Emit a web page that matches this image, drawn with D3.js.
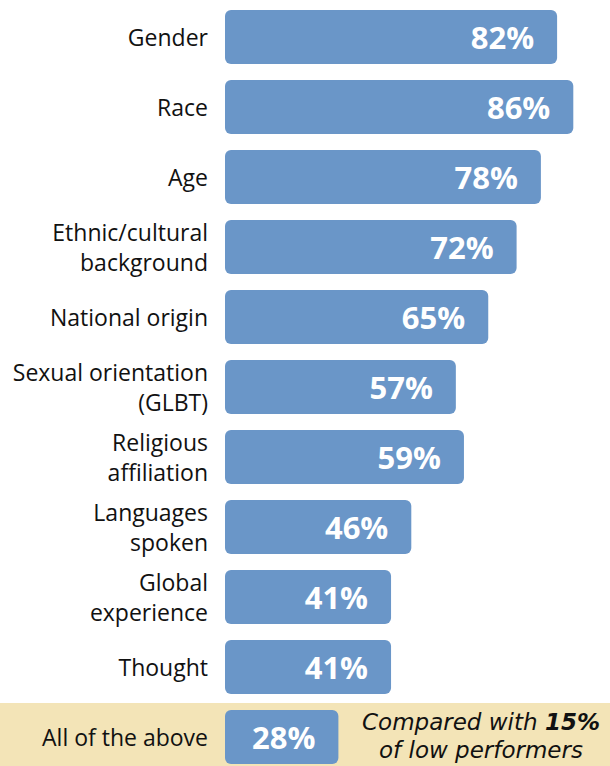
<!DOCTYPE html>
<html><head><meta charset="utf-8">
<script src="https://cdn.jsdelivr.net/npm/d3@7"></script>
<style>body{margin:0;background:#fff}svg{display:block}</style>
</head><body>
<script>
const categories = [["Gender"],["Race"],["Age"],["Ethnic/cultural","background"],["National origin"],["Sexual orientation","(GLBT)"],["Religious","affiliation"],["Languages","spoken"],["Global","experience"],["Thought"],["All of the above"]];
const values = [82,86,78,72,65,57,59,46,41,41,28];
const annotation = ["Compared with ", "15%", "of low performers"];

const W=610,H=766;
const svg=d3.select("body").append("svg").attr("width",W).attr("height",H);
const x=d3.scaleLinear().domain([0,100]).range([225,630]);
const y=d3.scaleBand().domain(d3.range(values.length)).range([2,772]).paddingInner(0.23).paddingOuter(0.115);

svg.append("rect").attr("x",0).attr("y",703).attr("width",W).attr("height",H-703).attr("fill","#f3e4b7");

const g=svg.selectAll("g.row").data(values).enter().append("g");
g.append("rect").attr("x",x(0)).attr("y",(d,i)=>y(i)).attr("width",d=>x(d)-x(0)).attr("height",y.bandwidth())
 .attr("rx",6).attr("fill","#6a96c8");
g.append("text").attr("x",d=>x(d)-23).attr("y",(d,i)=>y(i)+y.bandwidth()/2).attr("dy","0.38em")
 .attr("text-anchor","end").attr("fill","#fff").attr("font-family","Open Sans").attr("font-weight","bold").attr("font-size",31)
 .text(d=>d+"%");
g.each(function(d,i){
  const lines=categories[i];
  const t=d3.select(this).append("text").attr("text-anchor","end").attr("font-family","Open Sans").attr("font-size",23).attr("fill","#111");
  lines.forEach((l,k)=>{
    t.append("tspan").attr("x",208).attr("y",y(i)+y.bandwidth()/2+(k-(lines.length-1)/2)*30).attr("dy","0.4em").text(l);
  });
});
const ann=svg.append("text").attr("text-anchor","middle").attr("font-family","DejaVu Sans").attr("font-style","italic").attr("font-size",23).attr("fill","#111");
ann.append("tspan").attr("x",481).attr("y",730).text(annotation[0]).append("tspan").attr("font-weight","bold").text(annotation[1]);
ann.append("tspan").attr("x",481).attr("y",758).text(annotation[2]);
</script>
</body></html>
